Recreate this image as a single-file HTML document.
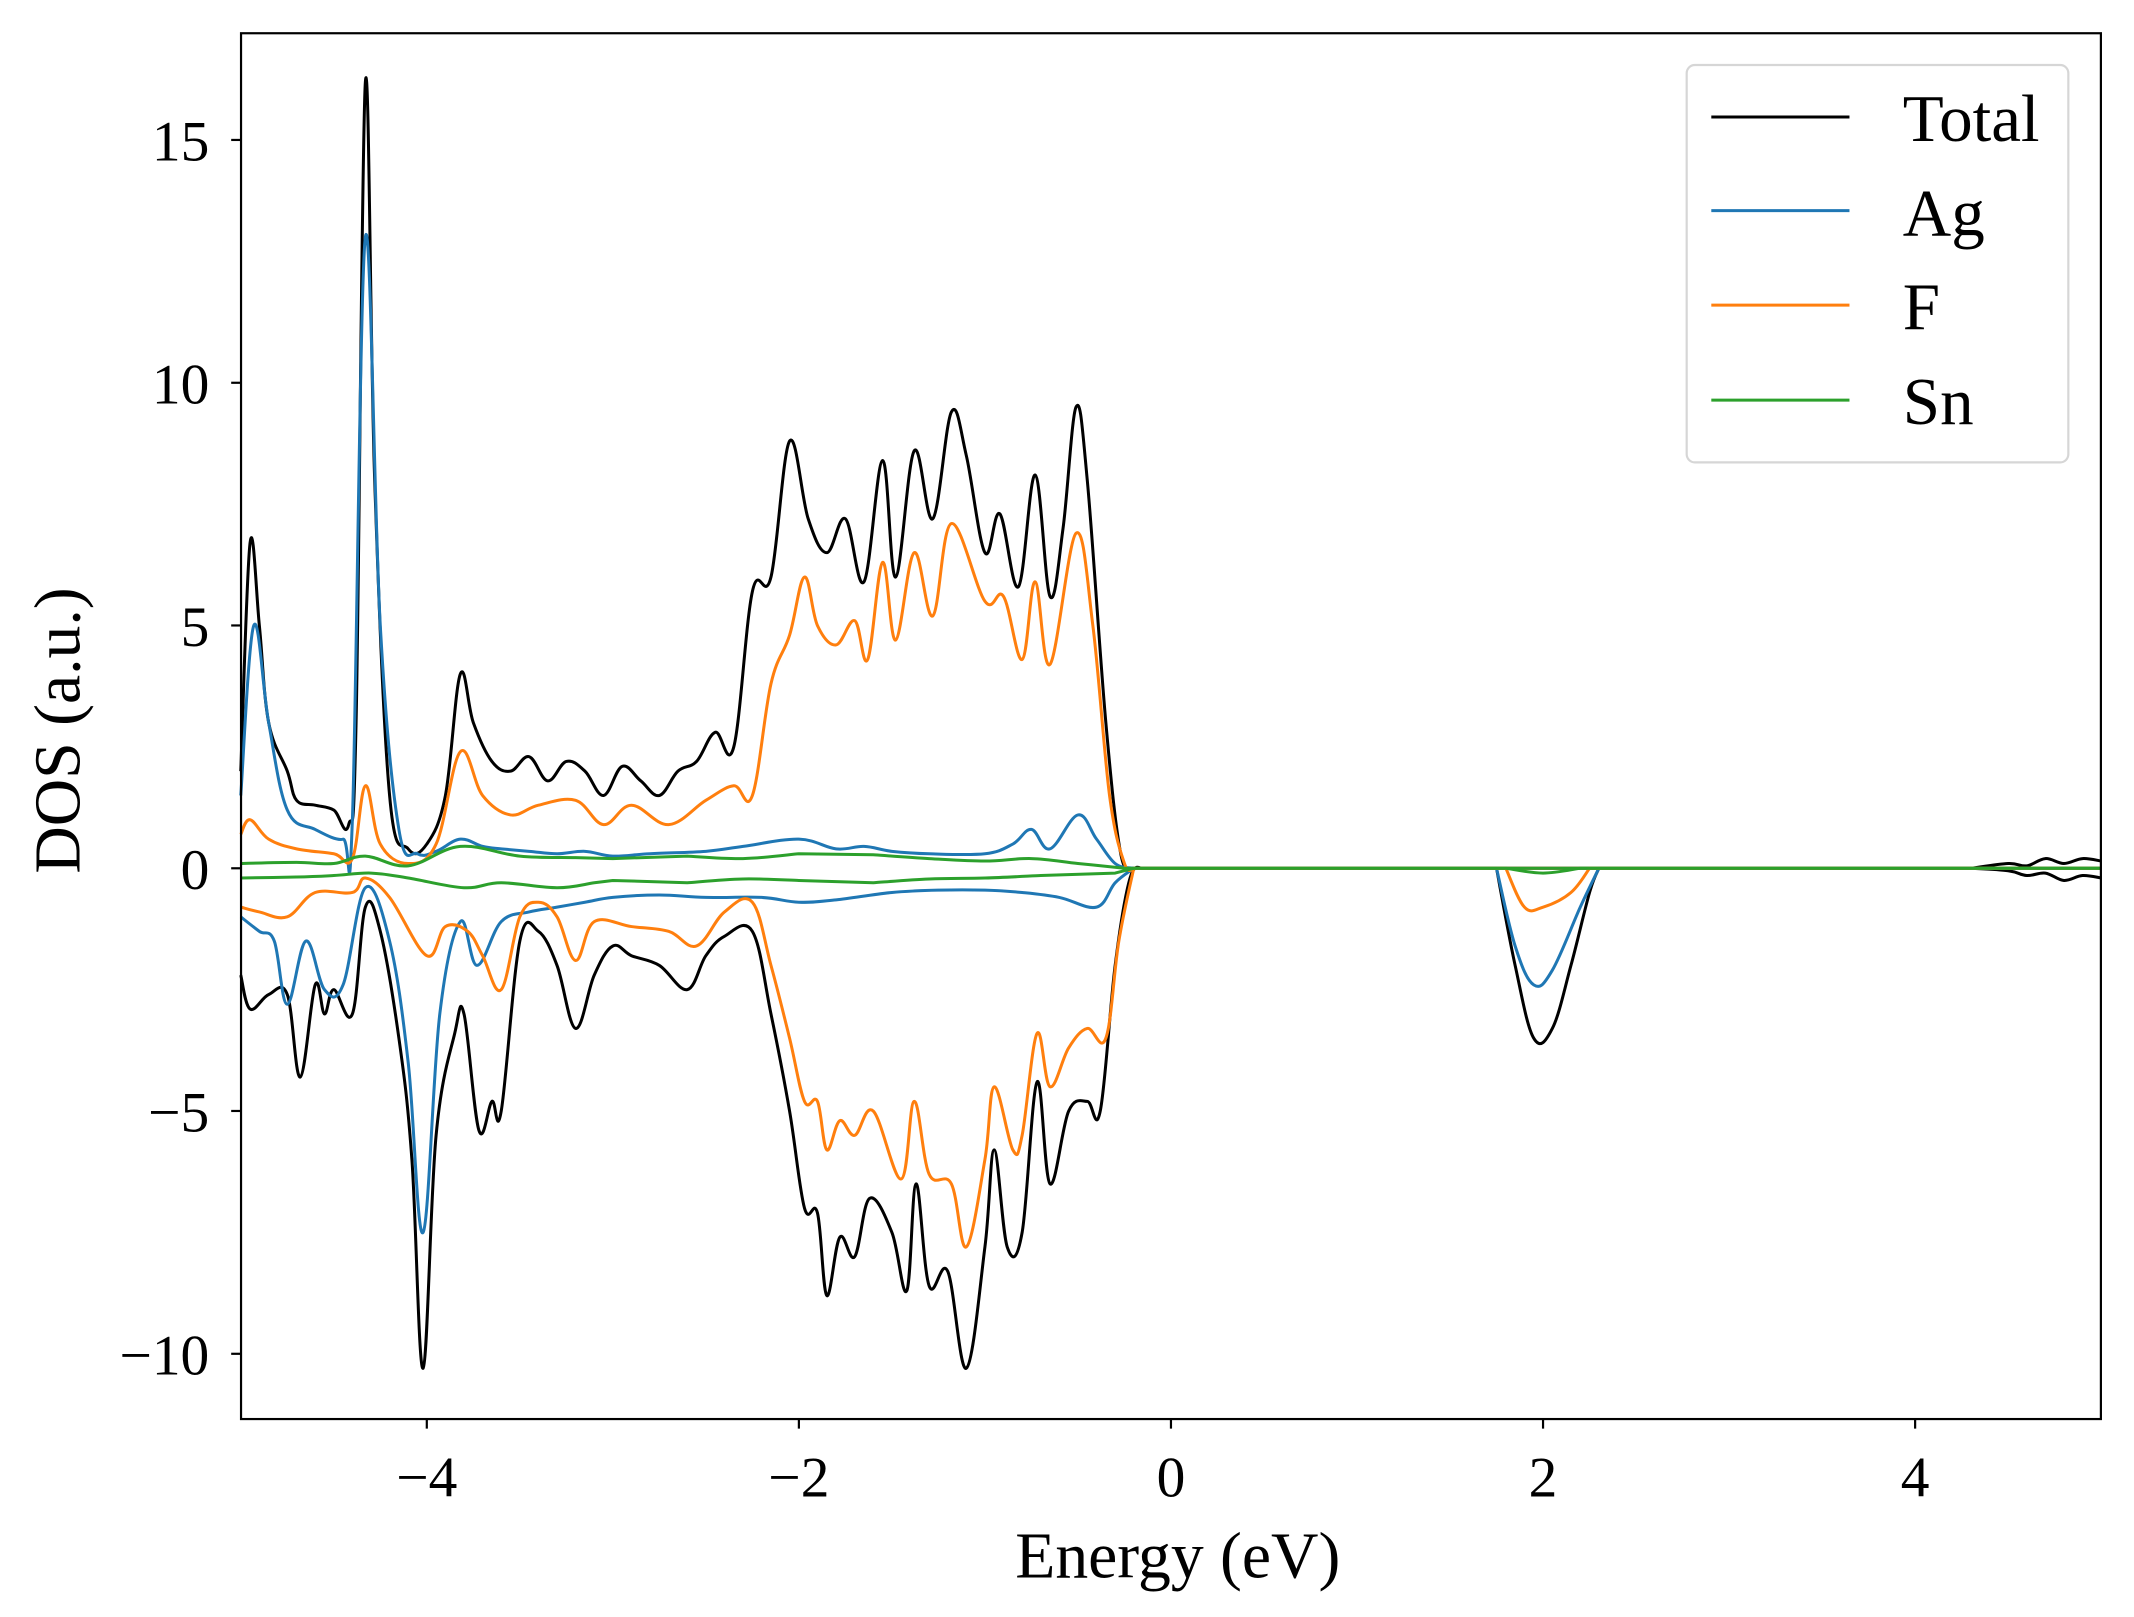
<!DOCTYPE html>
<html><head><meta charset="utf-8"><style>
html,body{margin:0;padding:0;background:#fff;}
svg{display:block;}
text{font-family:"Liberation Serif",serif;fill:#000;}
</style></head><body>
<svg id="s" width="2134" height="1617" viewBox="0 0 1560 1182" preserveAspectRatio="none" xmlns="http://www.w3.org/2000/svg">
<rect width="1560" height="1182" fill="#fff"/>
<g id="curves" fill="none" stroke-width="2.2" stroke-linejoin="round"></g>
<rect x="176.2" y="24.3" width="1359.6" height="1013" fill="none" stroke="#000" stroke-width="1.6"/>
<g stroke="#000" stroke-width="1.6">
<line x1="312" y1="1037.3" x2="312" y2="1044.3"/><line x1="584" y1="1037.3" x2="584" y2="1044.3"/><line x1="856" y1="1037.3" x2="856" y2="1044.3"/><line x1="1128" y1="1037.3" x2="1128" y2="1044.3"/><line x1="1400" y1="1037.3" x2="1400" y2="1044.3"/>
<line x1="169" y1="989.6" x2="176.2" y2="989.6"/><line x1="169" y1="812.1" x2="176.2" y2="812.1"/><line x1="169" y1="634.7" x2="176.2" y2="634.7"/><line x1="169" y1="457.2" x2="176.2" y2="457.2"/><line x1="169" y1="279.8" x2="176.2" y2="279.8"/><line x1="169" y1="102.3" x2="176.2" y2="102.3"/>
</g>
<g font-size="42" text-anchor="middle">
<text x="312" y="1094">−4</text><text x="584" y="1094">−2</text><text x="856" y="1094">0</text><text x="1128" y="1094">2</text><text x="1400" y="1094">4</text>
</g>
<g font-size="42" text-anchor="end">
<text x="153" y="1004.6">−10</text><text x="153" y="827.1">−5</text><text x="153" y="649.7">0</text><text x="153" y="472.2">5</text><text x="153" y="294.8">10</text><text x="153" y="117.3">15</text>
</g>
<text x="861" y="1153" font-size="48" text-anchor="middle">Energy (eV)</text>
<text transform="translate(58,534) rotate(-90)" font-size="48" text-anchor="middle">DOS (a.u.)</text>
<rect x="1233" y="47.5" width="279" height="290.5" rx="6" fill="#fff" fill-opacity="0.8" stroke="#d6d6d6" stroke-width="1.6"/>
<g stroke-width="2.2">
<line x1="1251" y1="85.5" x2="1352" y2="85.5" stroke="#000"/>
<line x1="1251" y1="154" x2="1352" y2="154" stroke="#1f77b4"/>
<line x1="1251" y1="223" x2="1352" y2="223" stroke="#ff7f0e"/>
<line x1="1251" y1="292.5" x2="1352" y2="292.5" stroke="#2ca02c"/>
</g>
<g font-size="49">
<text x="1391" y="103">Total</text><text x="1391" y="172">Ag</text><text x="1391" y="241">F</text><text x="1391" y="310">Sn</text>
</g>
</svg>
<script>
function X(e){return 856+136*e;}
function Y(d){return 634.7-35.49*d;}
var S={
tot:[[-5,2],[-4.95,6.7],[-4.9,5],[-4.85,3],[-4.75,2],[-4.7,1.4],[-4.6,1.3],[-4.5,1.2],[-4.42,0.9],[-4.38,3],[-4.33,16.2],[-4.28,8],[-4.2,1.5],[-4.1,0.4],[-4.0,0.5],[-3.9,1.5],[-3.82,4],[-3.75,3],[-3.65,2.2],[-3.55,2.0],[-3.45,2.3],[-3.35,1.8],[-3.25,2.2],[-3.15,2.0],[-3.05,1.5],[-2.95,2.1],[-2.85,1.8],[-2.75,1.5],[-2.65,2.0],[-2.55,2.2],[-2.45,2.8],[-2.35,2.5],[-2.25,5.7],[-2.15,6],[-2.05,8.8],[-1.95,7.2],[-1.85,6.5],[-1.75,7.2],[-1.65,5.9],[-1.55,8.4],[-1.48,6],[-1.38,8.6],[-1.28,7.2],[-1.18,9.4],[-1.1,8.5],[-1.0,6.5],[-0.92,7.3],[-0.82,5.8],[-0.73,8.1],[-0.65,5.6],[-0.58,7],[-0.51,9.5],[-0.45,8],[-0.35,3],[-0.27,0.3],[-0.2,0],[4.3,0],[4.5,0.1],[4.6,0.05],[4.7,0.2],[4.8,0.1],[4.9,0.2],[5,0.15]],
ag:[[-5,1.5],[-4.93,5],[-4.85,3],[-4.75,1.2],[-4.6,0.8],[-4.45,0.6],[-4.4,1],[-4.33,13],[-4.25,5],[-4.15,0.8],[-4.05,0.3],[-3.95,0.35],[-3.82,0.6],[-3.7,0.45],[-3.6,0.4],[-3.45,0.35],[-3.3,0.3],[-3.15,0.35],[-3.0,0.25],[-2.8,0.3],[-2.5,0.35],[-2.3,0.45],[-2.0,0.6],[-1.8,0.4],[-1.65,0.45],[-1.5,0.35],[-1.3,0.3],[-1.0,0.3],[-0.85,0.5],[-0.75,0.8],[-0.65,0.4],[-0.5,1.1],[-0.4,0.6],[-0.3,0.1],[-0.2,0],[5,0]],
f:[[-5,0.7],[-4.95,1],[-4.85,0.6],[-4.7,0.4],[-4.5,0.3],[-4.4,0.2],[-4.33,1.7],[-4.25,0.5],[-4.1,0.1],[-3.95,0.5],[-3.82,2.4],[-3.7,1.5],[-3.55,1.1],[-3.4,1.3],[-3.2,1.4],[-3.05,0.9],[-2.9,1.3],[-2.7,0.9],[-2.5,1.4],[-2.35,1.7],[-2.25,1.5],[-2.15,3.8],[-2.05,4.8],[-1.97,6],[-1.9,5],[-1.8,4.6],[-1.7,5.1],[-1.63,4.3],[-1.55,6.3],[-1.48,4.7],[-1.38,6.5],[-1.28,5.2],[-1.18,7.1],[-1.0,5.5],[-0.9,5.6],[-0.8,4.3],[-0.73,5.9],[-0.65,4.2],[-0.51,6.9],[-0.42,5],[-0.33,1.5],[-0.25,0.1],[-0.2,0],[5,0]],
sn:[[-5,0.1],[-4.7,0.12],[-4.5,0.1],[-4.33,0.25],[-4.1,0.05],[-3.82,0.45],[-3.5,0.25],[-3.2,0.22],[-3,0.2],[-2.6,0.25],[-2.3,0.2],[-2,0.3],[-1.6,0.28],[-1.3,0.2],[-1,0.15],[-0.75,0.2],[-0.5,0.1],[-0.25,0],[5,0]],
totn:[[-5,-2.2],[-4.95,-2.9],[-4.85,-2.6],[-4.75,-2.6],[-4.68,-4.3],[-4.6,-2.4],[-4.55,-3],[-4.5,-2.5],[-4.4,-3],[-4.33,-0.8],[-4.25,-1.3],[-4.15,-3.5],[-4.08,-6],[-4.02,-10.3],[-3.95,-5.5],[-3.85,-3.4],[-3.8,-3],[-3.72,-5.4],[-3.65,-4.8],[-3.6,-5],[-3.5,-1.5],[-3.4,-1.3],[-3.3,-2],[-3.2,-3.3],[-3.1,-2.2],[-3.0,-1.6],[-2.9,-1.8],[-2.75,-2.0],[-2.6,-2.5],[-2.5,-1.8],[-2.4,-1.4],[-2.25,-1.3],[-2.15,-3],[-2.05,-5],[-1.97,-7],[-1.9,-7.1],[-1.85,-8.8],[-1.78,-7.6],[-1.7,-8],[-1.62,-6.8],[-1.5,-7.5],[-1.42,-8.7],[-1.37,-6.5],[-1.3,-8.6],[-1.2,-8.3],[-1.1,-10.3],[-1.0,-7.8],[-0.95,-5.8],[-0.88,-7.8],[-0.8,-7.5],[-0.72,-4.4],[-0.65,-6.5],[-0.55,-5],[-0.45,-4.8],[-0.38,-5],[-0.3,-2],[-0.22,-0.2],[-0.15,0],[1.75,0],[1.85,-2],[1.95,-3.5],[2.05,-3.3],[2.15,-2],[2.25,-0.5],[2.3,0],[4.3,0],[4.5,-0.05],[4.6,-0.15],[4.7,-0.1],[4.8,-0.25],[4.9,-0.15],[5,-0.2]],
agn:[[-5,-1],[-4.9,-1.3],[-4.82,-1.5],[-4.75,-2.8],[-4.65,-1.5],[-4.55,-2.5],[-4.45,-2.4],[-4.33,-0.4],[-4.2,-1.5],[-4.1,-4],[-4.02,-7.5],[-3.93,-3],[-3.82,-1.1],[-3.73,-2],[-3.6,-1.1],[-3.45,-0.9],[-3.3,-0.8],[-3.15,-0.7],[-3.0,-0.6],[-2.75,-0.55],[-2.5,-0.6],[-2.2,-0.6],[-2.0,-0.7],[-1.8,-0.65],[-1.5,-0.5],[-1.25,-0.45],[-1.0,-0.45],[-0.8,-0.5],[-0.6,-0.6],[-0.4,-0.8],[-0.3,-0.3],[-0.2,0],[1.75,0],[1.85,-1.6],[1.95,-2.4],[2.05,-2.1],[2.2,-0.8],[2.3,0],[5,0]],
fn:[[-5,-0.8],[-4.9,-0.9],[-4.75,-1],[-4.6,-0.5],[-4.4,-0.5],[-4.33,-0.2],[-4.2,-0.6],[-4.0,-1.8],[-3.9,-1.2],[-3.78,-1.3],[-3.7,-1.8],[-3.6,-2.5],[-3.5,-1],[-3.4,-0.7],[-3.3,-1],[-3.2,-1.9],[-3.1,-1.1],[-2.9,-1.2],[-2.7,-1.3],[-2.55,-1.6],[-2.4,-0.9],[-2.25,-0.7],[-2.15,-2],[-2.05,-3.5],[-1.97,-4.8],[-1.9,-4.8],[-1.85,-5.8],[-1.78,-5.2],[-1.7,-5.5],[-1.6,-5],[-1.45,-6.4],[-1.38,-4.8],[-1.3,-6.3],[-1.18,-6.5],[-1.1,-7.8],[-1.0,-6],[-0.95,-4.5],[-0.85,-5.8],[-0.8,-5.5],[-0.72,-3.4],[-0.65,-4.5],[-0.55,-3.7],[-0.45,-3.3],[-0.35,-3.5],[-0.28,-1.5],[-0.2,0],[1.8,0],[1.9,-0.8],[2.0,-0.8],[2.15,-0.5],[2.25,0],[5,0]],
snn:[[-5,-0.2],[-4.7,-0.18],[-4.5,-0.15],[-4.3,-0.1],[-4.1,-0.2],[-3.8,-0.4],[-3.6,-0.3],[-3.3,-0.4],[-3.1,-0.3],[-3,-0.25],[-2.6,-0.3],[-2.3,-0.22],[-2,-0.25],[-1.6,-0.3],[-1.3,-0.22],[-1,-0.2],[-0.7,-0.15],[-0.3,-0.1],[-0.2,0],[1.8,0],[2,-0.1],[2.2,0],[5,0]]
};
function path(a){
  var p=a.map(function(q){return [X(q[0]),Y(q[1])];});
  var d="M"+p[0][0].toFixed(1)+","+p[0][1].toFixed(1);
  for(var i=0;i<p.length-1;i++){
    var p1=p[i],p2=p[i+1];
    if(p2[0]-p1[0]>50){d+="L"+p2[0].toFixed(1)+","+p2[1].toFixed(1);continue;}
    var p0=p[i>0?i-1:i],p3=p[i+2<p.length?i+2:i+1];
    if(p1[0]-p0[0]>50)p0=p1; if(p3[0]-p2[0]>50)p3=p2;
    var t=0.18;
    var c1x=p1[0]+(p2[0]-p0[0])*t,c1y=p1[1]+(p2[1]-p0[1])*t;
    var c2x=p2[0]-(p3[0]-p1[0])*t,c2y=p2[1]-(p3[1]-p1[1])*t;
    c1x=Math.min(Math.max(c1x,p1[0]),p2[0]);c2x=Math.min(Math.max(c2x,p1[0]),p2[0]);
    d+="C"+c1x.toFixed(1)+","+c1y.toFixed(1)+" "+c2x.toFixed(1)+","+c2y.toFixed(1)+" "+p2[0].toFixed(1)+","+p2[1].toFixed(1);
  }
  return d;
}
var g=document.getElementById("curves");
[["tot","#000"],["totn","#000"],["ag","#1f77b4"],["agn","#1f77b4"],["f","#ff7f0e"],["fn","#ff7f0e"],["sn","#2ca02c"],["snn","#2ca02c"]].forEach(function(k){
  var el=document.createElementNS("http://www.w3.org/2000/svg","path");
  el.setAttribute("d",path(S[k[0]]));el.setAttribute("stroke",k[1]);g.appendChild(el);
});
</script>
</body></html>
